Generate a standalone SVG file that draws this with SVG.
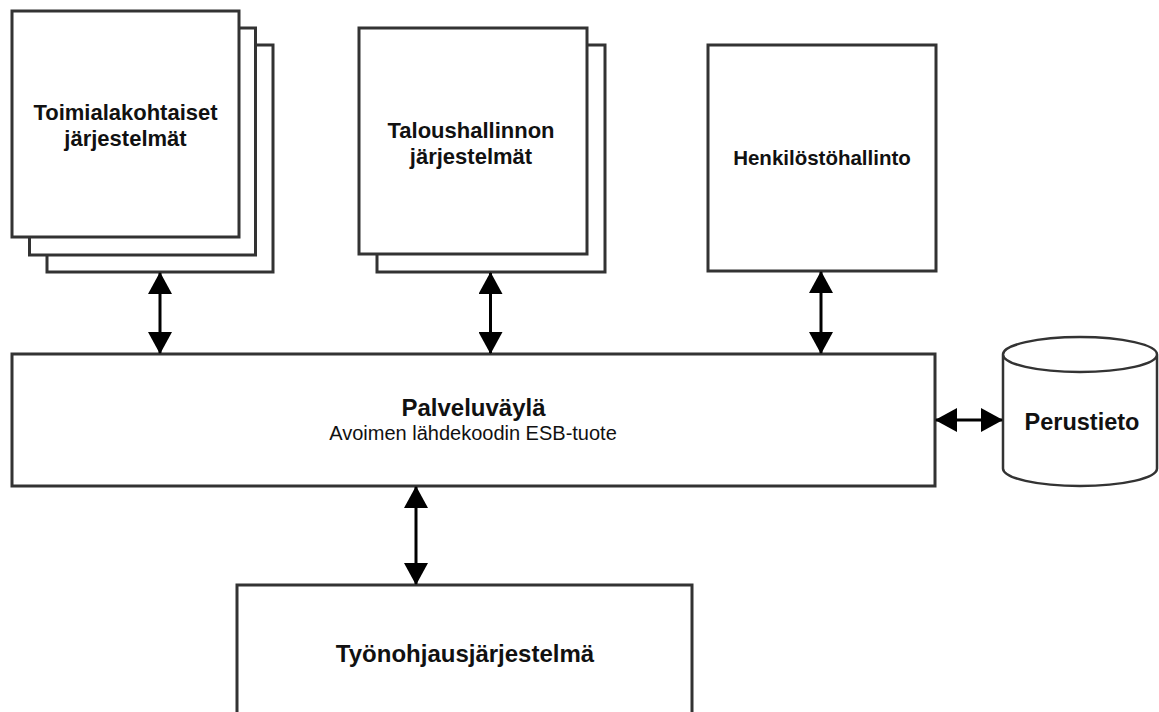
<svg xmlns="http://www.w3.org/2000/svg" width="1159" height="712" viewBox="0 0 1159 712">
<defs>
<style>
.box{fill:#fff;stroke:#333;stroke-width:3}
.cyl{fill:#fff;stroke:#333;stroke-width:2.5}
.lbl{font-family:"Liberation Sans",Arial,sans-serif;font-weight:bold;fill:#111;text-anchor:middle}
.sub{font-family:"Liberation Sans",Arial,sans-serif;fill:#111;text-anchor:middle;font-size:20px}
.con{stroke:#000;stroke-width:3;fill:none;marker-start:url(#ah);marker-end:url(#ah)}
</style>
<marker id="ah" markerUnits="userSpaceOnUse" markerWidth="22" markerHeight="24" viewBox="0 0 22 24" refX="21" refY="12" orient="auto-start-reverse">
<path d="M0,0 L22,12 L0,24 Z" fill="#000"/>
</marker>
</defs>
<rect width="1159" height="712" fill="#fff"/>
<g id="toimiala">
<rect class="box" x="47" y="45" width="226" height="227"/>
<rect class="box" x="29.5" y="28" width="226" height="227"/>
<rect class="box" x="12" y="11" width="227" height="226"/>
<text class="lbl" font-size="22" x="125.5" y="120">Toimialakohtaiset</text>
<text class="lbl" font-size="22" x="125.5" y="146">järjestelmät</text>
</g>
<g id="talous">
<rect class="box" x="377" y="45" width="228" height="227"/>
<rect class="box" x="359" y="28" width="228" height="226"/>
<text class="lbl" font-size="22" x="471" y="138">Taloushallinnon</text>
<text class="lbl" font-size="22" x="471" y="164">järjestelmät</text>
</g>
<g id="henkilosto">
<rect class="box" x="708" y="45" width="228" height="226"/>
<text class="lbl" font-size="20.5" x="822" y="165">Henkilöstöhallinto</text>
</g>
<g id="palveluvayla">
<rect class="box" x="12" y="354" width="923" height="132"/>
<text class="lbl" font-size="24" x="473.5" y="416">Palveluväylä</text>
<text class="sub" x="473" y="440">Avoimen lähdekoodin ESB-tuote</text>
</g>
<g id="perustieto">
<path class="cyl" d="M1003,354.5 L1003,468.5 A77,17.5 0 0 0 1157,468.5 L1157,354.5 A77,17.5 0 0 0 1003,354.5 A77,17.5 0 0 0 1157,354.5"/>
<text class="lbl" font-size="23.5" x="1082" y="430">Perustieto</text>
</g>
<g id="tyonohjaus">
<rect class="box" x="237" y="585" width="455" height="140"/>
<text class="lbl" font-size="24" x="465" y="662">Työnohjausjärjestelmä</text>
</g>
<g id="connectors">
<line class="con" x1="160" y1="273" x2="160" y2="353"/>
<line class="con" x1="490.5" y1="273" x2="490.5" y2="353"/>
<line class="con" x1="821" y1="272" x2="821" y2="353"/>
<line class="con" x1="936" y1="420" x2="1002" y2="420"/>
<line class="con" x1="416" y1="487" x2="416" y2="584"/>
</g>
</svg>
